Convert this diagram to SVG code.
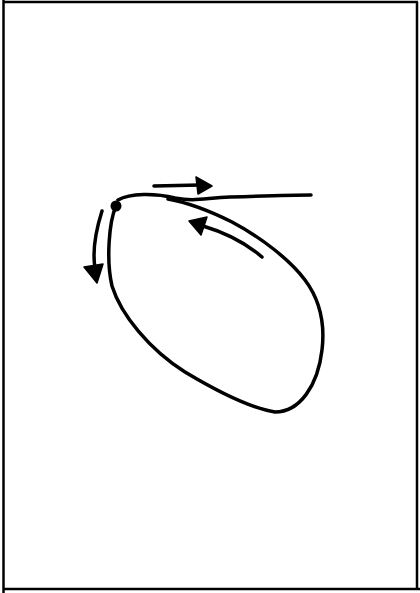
<svg xmlns="http://www.w3.org/2000/svg" width="420" height="593" viewBox="0 0 420 593">
<style>
.ink{fill:none;stroke:#000;stroke-width:3.5;stroke-linecap:round;stroke-linejoin:round}
.head{fill:#000;stroke:#000;stroke-width:1.5;stroke-linejoin:round}
.frame{fill:none;stroke:#000;stroke-width:2.5}
</style>
<rect width="420" height="593" fill="#fff"/>
<g id="frame">
<line class="frame" x1="3.5" y1="0" x2="3.5" y2="593"/>
<line class="frame" x1="3" y1="2" x2="418" y2="2"/>
<line class="frame" x1="417" y1="2" x2="417" y2="589"/>
<line class="frame" x1="3" y1="589" x2="420" y2="589"/>
</g>
<g id="loop">
<path class="ink" d="M116,206 C109,222 106,260 112,286 C121,315 150,350 185,372 C215,390 250,408 275,412 C300,412 318,385 322,350 C325,325 320,300 305,280 C290,260 262,238 232,222 C210,211 190,203 168,199"/>
</g>
<g id="tangent-line">
<path class="ink" d="M118,200 C130,193 155,193 175,198 C195,202 205,198 230,197 C260,196 290,195 311,195"/>
</g>
<g id="point">
<circle cx="116" cy="206" r="5.5" fill="#000"/>
</g>
<g id="connectors">
<path class="ink" d="M154,186 L200,185"/>
<polygon class="head" points="196,177 212,186 198,194"/>
<path class="ink" d="M262,257 C248,245 230,234 203,226"/>
<polygon class="head" points="189,221 207,217 201,235"/>
<path class="ink" d="M102,211 C96,230 92,250 95,268"/>
<polygon class="head" points="84,267 103,264 97,283"/>
</g>
</svg>
